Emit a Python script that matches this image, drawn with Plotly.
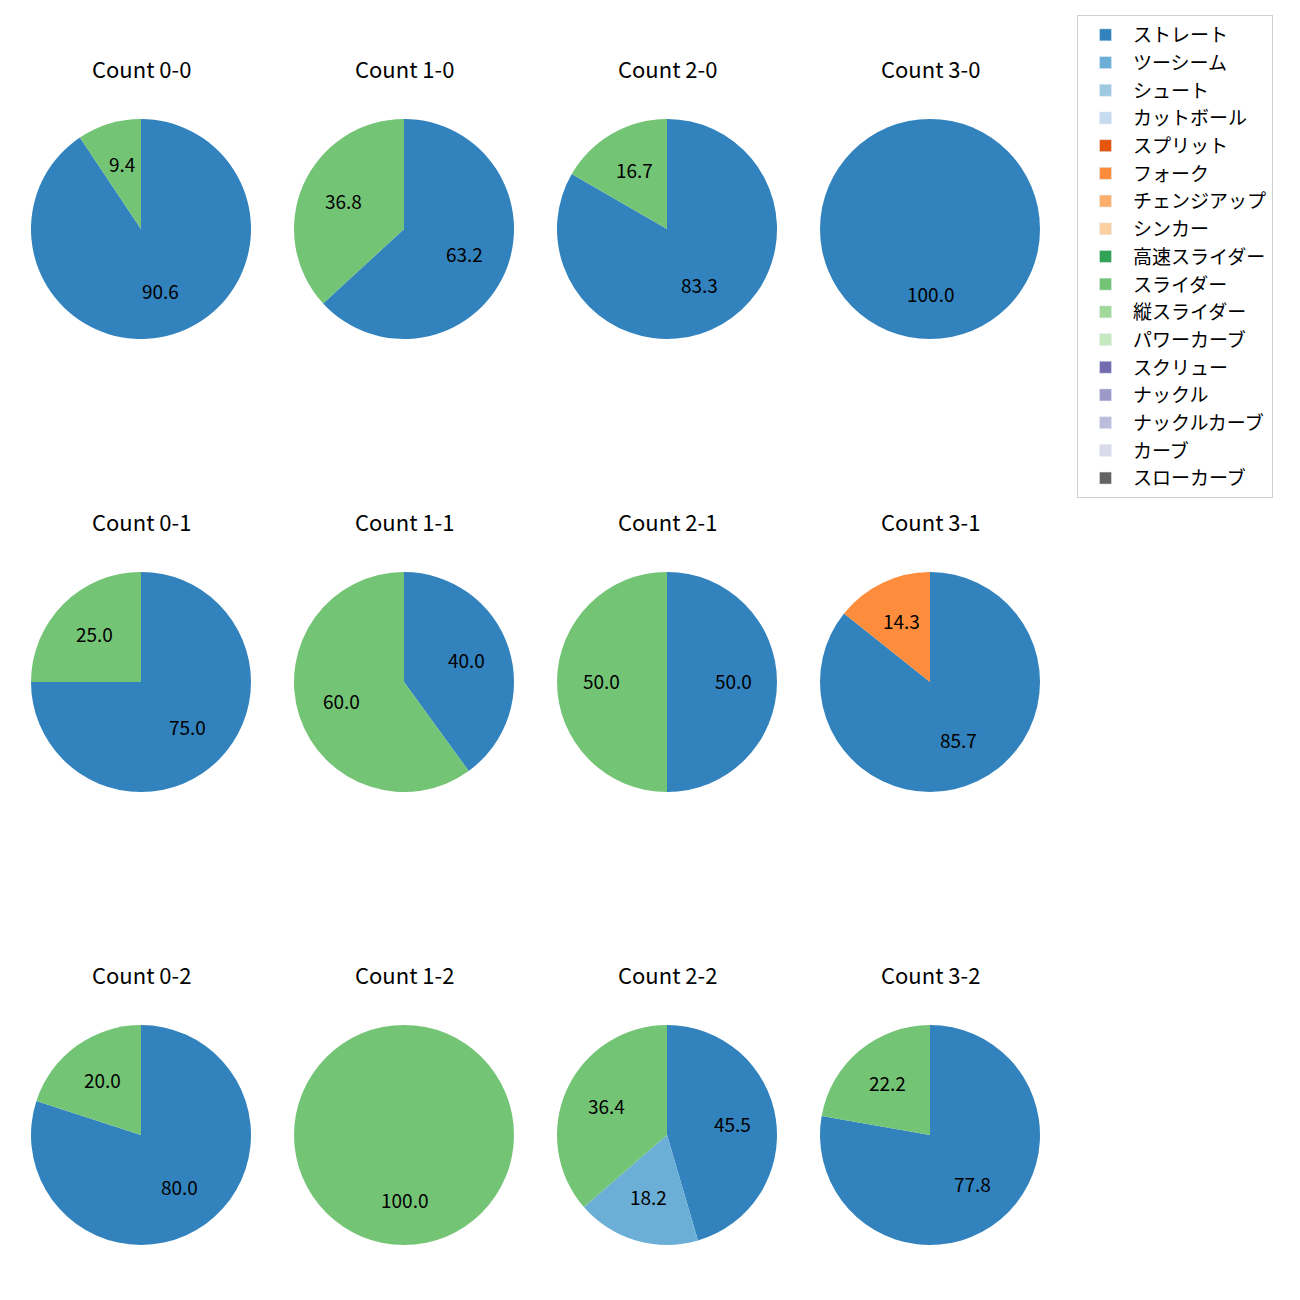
import math
import plotly.graph_objects as go

# ---- data ----
pitch_types = ["ストレート", "ツーシーム", "シュート", "カットボール", "スプリット", "フォーク",
               "チェンジアップ", "シンカー", "高速スライダー", "スライダー", "縦スライダー",
               "パワーカーブ", "スクリュー", "ナックル", "ナックルカーブ", "カーブ", "スローカーブ"]
colors = ["#3182bd", "#6baed6", "#9ecae1", "#c6dbef", "#e6550d", "#fd8d3c", "#fdae6b", "#fdd0a2",
          "#31a354", "#74c476", "#a1d99b", "#c7e9c0", "#756bb1", "#9e9ac8", "#bcbddc", "#dadaeb",
          "#636363"]

counts = ["0-0", "1-0", "2-0", "3-0",
          "0-1", "1-1", "2-1", "3-1",
          "0-2", "1-2", "2-2", "3-2"]
# pitch counts per count situation (only types that appear)
straight = [29, 12, 5, 1, 3, 2, 1, 6, 4, 0, 5, 7]
twoseam  = [0, 0, 0, 0, 0, 0, 0, 0, 0, 0, 2, 0]
fork     = [0, 0, 0, 0, 0, 0, 0, 1, 0, 0, 0, 0]
slider   = [3, 7, 1, 0, 1, 3, 1, 0, 1, 1, 4, 2]

series = {"ストレート": straight, "ツーシーム": twoseam, "フォーク": fork, "スライダー": slider}

# ---- layout (figure pixel coordinates) ----
W = H = 1300
col_cx = [133, 396, 659, 922]
row_cy = [221, 674, 1127]
R = 110
TITLE_OFF = 160
PCT_DIST = 0.6
FONT = "Noto Sans CJK JP, Noto Sans, sans-serif"

fig = go.Figure()
for i, c in enumerate(counts):
    r, col = divmod(i, 4)
    cx, cy = col_cx[col], row_cy[r]
    labs, vals, cols = [], [], []
    for name in pitch_types:
        if name in series and series[name][i] > 0:
            labs.append(name)
            vals.append(series[name][i])
            cols.append(colors[pitch_types.index(name)])
    total = sum(vals)
    fig.add_trace(go.Pie(
        labels=labs, values=vals, sort=False, direction="clockwise", rotation=0,
        marker=dict(colors=cols, line=dict(width=0)),
        textinfo="none", showlegend=False, hoverinfo="label+percent",
        domain=dict(x=[(cx - R) / W, (cx + R) / W], y=[1 - (cy + R) / H, 1 - (cy - R) / H]),
    ))
    # percentage labels at the slice mid-angle (clockwise from 12 o'clock)
    cum = 0
    for v in vals:
        theta = math.radians(90 - 360 * (cum + v / 2) / total)
        cum += v
        px = cx + PCT_DIST * R * math.cos(theta)
        py = cy - PCT_DIST * R * math.sin(theta)
        fig.add_annotation(x=px / W, y=1 - py / H, xref="paper", yref="paper",
                           xanchor="center", yanchor="middle", yshift=2,
                           text=f"{v / total * 100:.1f}", showarrow=False,
                           font=dict(size=19, color="black", family=FONT))
    fig.add_annotation(x=cx / W, y=1 - (cy - TITLE_OFF) / H, xref="paper", yref="paper",
                       xanchor="center", yanchor="middle", yshift=1,
                       text=f"Count {c}", showarrow=False,
                       font=dict(size=22, color="black", family=FONT))

for name, colr in zip(pitch_types, colors):
    fig.add_trace(go.Bar(x=[None], y=[None], name=name, marker_color=colr,
                         legendgroup=name, showlegend=True))

fig.update_layout(
    width=W, height=H, margin=dict(l=0, r=0, t=0, b=0),
    paper_bgcolor="white", plot_bgcolor="white",
    xaxis=dict(visible=False), yaxis=dict(visible=False),
    legend=dict(x=1069 / W, y=1 - 7 / H, xanchor="left", yanchor="top",
                bordercolor="#d0d0d0", borderwidth=1, tracegroupgap=0,
                itemwidth=45,
                font=dict(size=19, family=FONT, color="black"), bgcolor="white"),
    font=dict(family=FONT),
)
fig.write_html("out.html")
